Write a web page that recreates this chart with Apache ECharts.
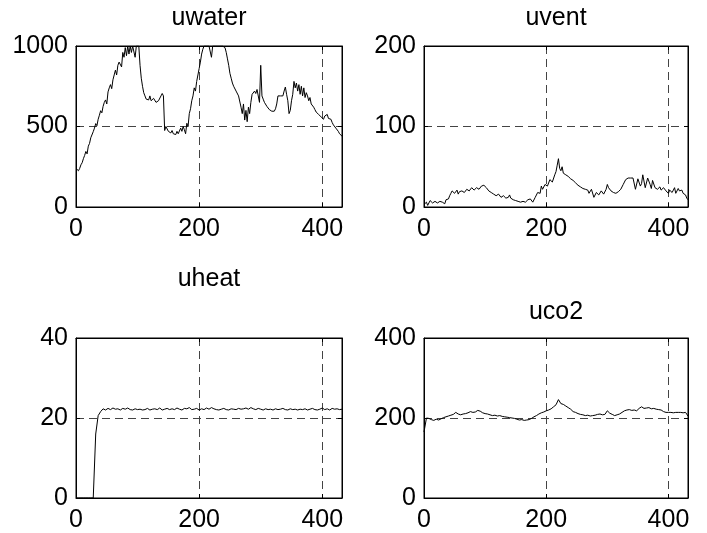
<!DOCTYPE html>
<html>
<head>
<meta charset="utf-8">
<script src="https://cdn.jsdelivr.net/npm/echarts@6/dist/echarts.min.js"></script>
<style>
  html, body { margin: 0; padding: 0; background: #fff; }
  #chart { width: 707px; height: 533px; }
</style>
</head>
<body>
<div id="chart"></div>
<script>
// t runs 0 .. 432; uwater/uvent sampled every 2 steps, uheat/uco2 every 4
const T_MAX = 432;

const titles = ["uwater", "uvent", "uheat", "uco2"];
const yMax = [1000, 200, 40, 400];
const xTicks = [0, 200, 400];
const steps = [2, 2, 4, 4];

const uwater = [240,228,225,240,262,275,300,320,345,330,
  378,395,430,420,468,490,518,505,545,570,
  598,585,625,650,665,640,715,740,760,735,
  790,820,850,820,880,900,910,870,960,930,
  990,940,1000,950,1000,960,1000,990,930,1000,
  1000,1000,880,800,750,710,690,670,680,665,
  690,660,655,675,665,650,655,660,665,690,
  705,690,475,500,490,470,480,460,475,455,
  465,450,470,455,460,490,470,500,480,455,
  520,500,580,610,660,690,740,720,780,820,
  860,900,950,980,1000,1000,1000,1000,1000,1000,
  930,1000,1000,1000,1000,1000,1000,1000,1000,1000,
  1000,990,960,920,880,830,800,770,750,740,
  720,730,690,700,620,580,640,540,600,530,
  620,580,650,700,690,720,705,730,720,650,
  880,690,670,650,640,625,620,605,600,595,
  600,595,610,640,690,680,690,700,690,720,
  745,700,660,580,600,660,700,780,740,770,
  720,760,700,750,690,740,680,710,690,660,
  680,640,630,620,605,590,580,575,565,560,
  555,545,565,560,575,550,540,545,525,510,
  505,490,480,470,455,450,440];

const uvent = [3,5,6,2,3,8,9,5,4,7,
  8,5,6,7,5,6,6,4,9,10,
  10,14,17,20,19,17,19,21,16,19,
  18,20,21,18,19,22,22,20,21,24,
  25,21,20,24,25,22,23,26,28,27,
  26,24,22,20,19,18,17,16,16,14,
  13,16,15,12,11,14,13,11,10,12,
  15,11,10,9,9,8,8,7,7,6,
  6,7,7,6,8,9,8,10,12,6,
  7,12,14,18,20,17,26,22,20,28,
  30,26,28,34,35,31,33,40,44,52,
  60,48,45,50,42,44,40,42,38,36,
  35,34,33,31,30,28,27,26,25,24,
  23,24,22,20,21,17,15,22,20,12,
  10,18,18,15,17,20,21,16,15,22,
  28,24,22,20,19,18,17,17,18,19,
  20,22,24,28,31,34,35,36,36,36,
  36,36,36,22,23,35,33,26,29,40,
  38,24,25,36,35,28,23,33,34,24,
  26,22,22,25,21,19,24,22,20,18,
  17,21,23,18,19,24,17,19,23,20,
  18,21,17,15,15,11,9];

const uheat = [0,0,0,0,0,0,0,0,16,20.6,21.6,22.3,22.0,
  22.4,22.1,22.5,22.2,22.3,22.0,22.4,22.2,22.5,22.1,22.0,22.3,22.1,
  22.2,22.0,22.1,22.4,22.0,22.2,22.3,22.1,22.5,22.0,22.2,22.4,22.1,
  22.3,22.1,22.5,22.2,22.0,22.4,22.3,22.6,22.1,22.2,22.4,22.0,22.3,
  22.1,22.5,22.2,22.6,22.3,22.1,22.0,22.2,22.4,22.1,22.0,22.3,22.2,
  22.1,22.4,22.2,22.3,22.5,22.2,22.6,22.3,22.1,22.4,22.2,22.0,22.3,
  22.1,22.2,22.0,22.3,22.1,22.2,22.4,22.1,22.0,22.3,22.1,22.2,22.0,
  22.2,22.1,22.3,22.0,22.2,22.4,22.1,22.0,22.2,22.5,22.1,22.3,22.0,
  22.4,22.2,22.3,22.1,22.2];

const uco2 = [165,200,199,196,194,197,195,198,201,203,205,207,209,
  214,210,208,210,211,213,216,214,215,219,217,213,211,
  210,208,206,207,205,206,204,203,202,201,200,199,197,
  195,196,194,195,196,199,203,206,210,213,215,218,220,
  223,228,233,246,236,234,230,226,222,216,214,211,209,
  208,206,207,205,206,207,209,210,208,209,218,212,209,
  206,208,210,214,218,220,221,219,220,218,224,228,224,
  225,226,223,224,222,221,220,216,214,214,214,213,214,
  214,214,213,214,205];

const seriesValues = [uwater, uvent, uheat, uco2];

// subplot boxes (px)
const boxes = [
  { left: 76, top: 46, width: 266, height: 161, titleY: 18 },
  { left: 424, top: 46, width: 264, height: 161, titleY: 18 },
  { left: 76, top: 338, width: 266, height: 161, titleY: 279 },
  { left: 424, top: 338, width: 264, height: 161, titleY: 312 }
];

const FONT = "'Liberation Sans', Arial, Helvetica, sans-serif";
const FONT_SIZE = 25;
const dash = { color: "#444", width: 1, type: [8, 5] };
const edge = { color: "#000", width: 1 };

const grid = [], xAxis = [], yAxis = [], series = [], graphic = [];

boxes.forEach((b, i) => {
  grid.push({ left: b.left, top: b.top, width: b.width, height: b.height,
    show: true, borderColor: "#000", borderWidth: 1, backgroundColor: "#fff" });

  // bottom / left axes with labels and dashed grid
  xAxis.push({
    gridIndex: i, type: "value", min: 0, max: T_MAX, interval: 200,
    axisLine: { show: true, onZero: false, lineStyle: edge },
    axisTick: { show: true, inside: true, length: 4, lineStyle: edge },
    axisLabel: { color: "#000", fontSize: FONT_SIZE, fontFamily: FONT, margin: 10,
      showMaxLabel: false,
      formatter: (v) => (xTicks.includes(v) ? String(v) : "") },
    splitLine: { show: true, showMinLine: false, showMaxLine: false, lineStyle: dash }
  });
  yAxis.push({
    gridIndex: i, type: "value", min: 0, max: yMax[i], interval: yMax[i] / 2,
    axisLine: { show: true, onZero: false, lineStyle: edge },
    axisTick: { show: true, inside: true, length: 4, lineStyle: edge },
    axisLabel: { color: "#000", fontSize: FONT_SIZE, fontFamily: FONT, margin: 8,
      formatter: (v) => String(v) },
    splitLine: { show: true, showMinLine: false, showMaxLine: false, lineStyle: dash }
  });

  series.push({
    type: "line", xAxisIndex: i, yAxisIndex: i,
    showSymbol: false, symbol: "none", clip: true,
    lineStyle: { color: "#000", width: 1 },
    data: seriesValues[i].map((v, k) => [k * steps[i], v]),
    z: 3
  });

  graphic.push({
    type: "text",
    style: { text: titles[i], x: b.left + b.width / 2, y: b.titleY,
      align: "center", verticalAlign: "middle",
      fill: "#000", font: FONT_SIZE + "px " + FONT }
  });
});

// mirrored ticks on top and right edges (box style)
boxes.forEach((b, i) => {
  xAxis.push({
    gridIndex: i, type: "value", position: "top", min: 0, max: T_MAX, interval: 200,
    axisLine: { show: true, onZero: false, lineStyle: edge },
    axisTick: { show: true, inside: true, length: 4, lineStyle: edge },
    axisLabel: { show: false }, splitLine: { show: false }
  });
  yAxis.push({
    gridIndex: i, type: "value", position: "right", min: 0, max: yMax[i], interval: yMax[i] / 2,
    axisLine: { show: true, onZero: false, lineStyle: edge },
    axisTick: { show: true, inside: true, length: 4, lineStyle: edge },
    axisLabel: { show: false }, splitLine: { show: false }
  });
});

const chart = echarts.init(document.getElementById("chart"), null, { renderer: "canvas" });
chart.setOption({
  animation: false,
  backgroundColor: "#fff",
  grid, xAxis, yAxis, series, graphic
});
</script>
</body>
</html>
